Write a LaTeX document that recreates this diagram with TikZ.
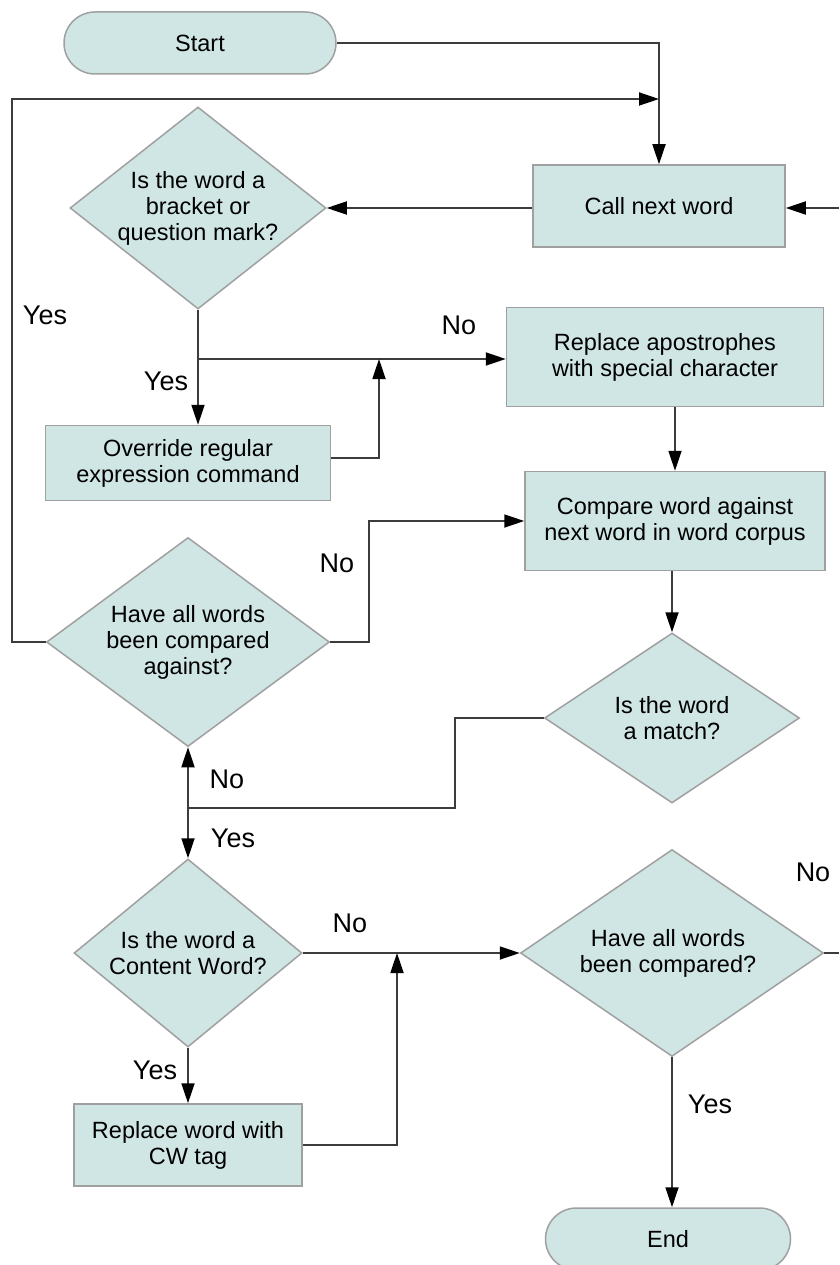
\documentclass[tikz,border=0pt]{standalone}
\usepackage{fontspec}
\setmainfont{Liberation Sans}
\usetikzlibrary{shapes.geometric,shapes.misc,arrows.meta}
\definecolor{shapefill}{RGB}{207,230,228}
\definecolor{shapeedge}{RGB}{160,160,160}
\definecolor{wire}{RGB}{60,60,60}
\begin{document}
\begin{tikzpicture}[x=1pt, y=-1pt,
  >={Triangle[length=20pt,width=13pt,color=black]},
  shp/.style={fill=shapefill, draw=shapeedge, line width=1.5pt, inner sep=0pt},
  box/.style={shp, rectangle, align=center, font=\fontsize{23.5}{26}\selectfont},
  term/.style={shp, rounded rectangle, font=\fontsize{23.5}{26}\selectfont},
  decision/.style={shp, diamond},
  txt/.style={align=center, font=\fontsize{23.5}{26}\selectfont},
  lbl/.style={font=\fontsize{27}{30}\selectfont},
  ln/.style={draw=wire, line width=1.8pt}]
  \useasboundingbox (0,0) rectangle (839,1265);
  % terminals
  \node[term, minimum width=272pt, minimum height=62pt] (start) at (200,43) {Start};
  \node[term, minimum width=245pt, minimum height=62pt] (end) at (668,1239) {End};
  % process boxes
  \node[box, minimum width=252pt, minimum height=82pt] (call) at (659,206) {Call next word};
  \node[box, minimum width=317pt, minimum height=99pt] (rep) at (665,357) {Replace apostrophes\\with special character};
  \node[box, minimum width=285pt, minimum height=75pt] (ovr) at (188,463) {Override regular\\expression command};
  \node[box, minimum width=300pt, minimum height=99pt] (cmp) at (675,521) {Compare word against\\next word in word corpus};
  \node[box, minimum width=228pt, minimum height=82pt] (cw) at (188,1145) {Replace word with\\CW tag};
  % decisions
  \node[decision, minimum width=256pt, minimum height=202pt] (d1) at (198,208) {};
  \node[txt] (d1t) at (d1) {Is the word a\\bracket or\\question mark?};
  \node[decision, minimum width=283pt, minimum height=209pt] (d2) at (188,642) {};
  \node[txt] (d2t) at (d2) {Have all words\\been compared\\against?};
  \node[decision, minimum width=255pt, minimum height=170pt] (match) at (672,718) {};
  \node[txt] (matcht) at (match) {Is the word\\a match?};
  \node[decision, minimum width=228pt, minimum height=188pt] (d3) at (188,953) {};
  \node[txt] (d3t) at (d3) {Is the word a\\Content Word?};
  \node[decision, minimum width=303pt, minimum height=207pt] (d4) at (672,953) {};
  \node[txt] (d4t) at (668,953) {Have all words\\been compared?};
  % helper points
  \coordinate (loopL) at (12,99);
  \coordinate (loopin) at (call.north |- loopL);
  \coordinate (rin) at (839,208);
  \coordinate (br1) at (d1.south |- 0,359);
  \coordinate (br2) at (379,359);
  \coordinate (br3) at (369,0);
  \coordinate (ovrout) at (ovr.east |- 0,458);
  \coordinate (mbend) at (455,808);
  \coordinate (jn) at (d2.south |- mbend);
  \coordinate (br4) at (397,953);
  \coordinate (rout) at (839,953);
  % connectors
  \draw[ln,->] (start.east) -| (call.north);
  \draw[ln,->] (d2.west) -| (loopL) -- (loopin);
  \draw[ln,->] (rin) -- (rin -| call.east);
  \draw[ln,->] (call.west |- d1.east) -- (d1.east);
  \draw[ln,->] (d1.south) -- (d1.south |- ovr.north);
  \draw[ln,->] (br1) -- (br1 -| rep.west);
  \draw[ln,->] (ovrout) -| (br2);
  \draw[ln,->] (rep.south -| cmp.north) -- (cmp.north);
  \draw[ln,->] (cmp.south -| match.north) -- (match.north);
  \draw[ln,->] (d2.east) -- (d2.east -| br3) |- (cmp.west);
  \draw[ln] (match.west) -| (mbend) -- (jn);
  \draw[ln,->] (jn) -- (d2.south);
  \draw[ln,->] (jn) -- (d3.north);
  \draw[ln,->] (d3.east) -- (d4.west);
  \draw[ln,->] (d3.south) -- (cw.north);
  \draw[ln,->] (cw.east) -| (br4);
  \draw[ln] (d4.east) -- (rout);
  \draw[ln,->] (d4.south) -- (d4.south |- end.north);
  % branch labels
  \node[lbl] (yes1) at (45,315) {Yes};
  \node[lbl] (no1) at (459,325) {No};
  \node[lbl] (yes2) at (166,381) {Yes};
  \node[lbl] (no2) at (337,563) {No};
  \node[lbl] (no3) at (227,779) {No};
  \node[lbl] (yes3) at (233,838) {Yes};
  \node[lbl] (no4) at (813,872) {No};
  \node[lbl] (no5) at (350,923) {No};
  \node[lbl] (yes4) at (155,1070) {Yes};
  \node[lbl] (yes5) at (710,1104) {Yes};
\end{tikzpicture}
\end{document}
